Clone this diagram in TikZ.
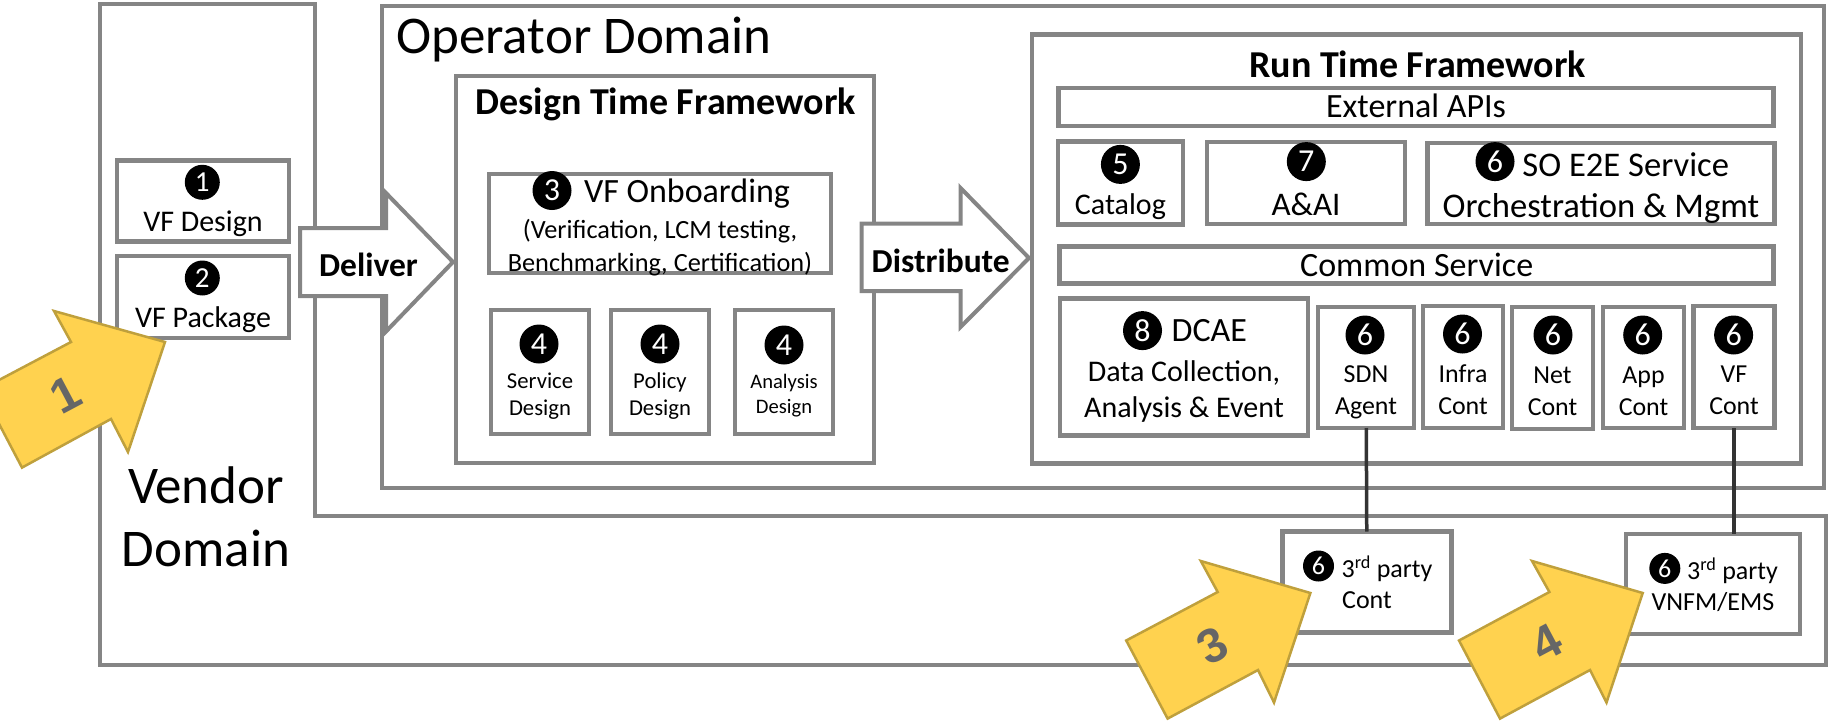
\documentclass[tikz,border=0pt]{standalone}
\usepackage{fontspec}
\setmainfont{Carlito}
\newfontfamily\arrowfont{Liberation Sans}
\newcommand{\fs}[2]{\fontsize{#1}{#2}\selectfont}
\definecolor{linegray}{HTML}{858585}
\definecolor{gold}{HTML}{FFD24F}
\definecolor{golddark}{HTML}{BFA03C}
\definecolor{wire}{HTML}{333333}
\definecolor{digitgray}{HTML}{666666}

\begin{document}
\begin{tikzpicture}[
    x=1pt, y=-1pt,
    frame/.style={rectangle, draw=linegray, line width=4.5pt, inner sep=0pt, outer sep=0pt},
    box/.style={frame, fill=white, align=center, text depth=0pt},
    numdot/.style={circle, fill=black, text=white, inner sep=0pt, minimum size=39pt, font=\fs{32}{32}},
    smalldot/.style={numdot, minimum size=31pt, font=\fs{26}{26}},
    tinydot/.style={numdot, minimum size=35pt, font=\fs{29}{29}},
    title/.style={inner sep=0pt, font=\fs{38}{40}\bfseries},
    bigtext/.style={inner sep=0pt, align=center, font=\fs{53}{63}},
    flow/.style={draw=linegray, line width=4pt, fill=white, line join=miter},
    flowtext/.style={inner sep=0pt, font=\fs{33.5}{36}\bfseries},
    bigarrow/.style={draw=golddark, line width=2.5pt, fill=gold},
    arrowdigit/.style={inner sep=0pt, text=digitgray, rotate=28, font=\arrowfont\fs{48}{48}\bfseries},
    wireline/.style={draw=wire, line width=3.5pt},
]
    \useasboundingbox (0,0) rectangle (1828,720);

    % Vendor Domain
    \draw[draw=linegray, line width=4.5pt] (100,4) -- (315,4) -- (315,516) -- (1826,516) -- (1826,665) -- (100,665) -- cycle;
    \node[bigtext] (vendorlabel) at (206,517) {Vendor\\Domain};

    % Operator Domain
    \node[frame, minimum width=1442pt, minimum height=482pt] (operator) at (1103,247) {};
    \node[bigtext, anchor=base] (operatorlabel) at (584,53) {Operator Domain};

    % Design Time
    \node[frame, minimum width=418pt, minimum height=387pt] (designframe) at (665,269.5) {};
    \node[title] (designtitle) at (665.7,104) {Design Time Framework};
    \node[box, minimum width=342pt, minimum height=99pt, text height=96pt, font=\fs{26.3}{33}] (onboarding) at (660,223.5)
        {\hspace*{54pt}{\fs{34}{33}VF Onboarding}\\[3pt](Verification, LCM testing,\\Benchmarking, Certification)};
    \node[box, minimum width=98pt, minimum height=124pt, text height=87pt, font=\fs{22.7}{27}] (service) at (540,372) {Service\\Design};
    \node[box, minimum width=98pt, minimum height=124pt, text height=87pt, font=\fs{22.7}{27}] (policy) at (660,372) {Policy\\Design};
    \node[box, minimum width=98pt, minimum height=124pt, text height=82pt, font=\fs{20.6}{25}] (analysis) at (784,372) {Analysis\\Design};

    % Run Time
    \node[frame, minimum width=769pt, minimum height=429pt] (runframe) at (1416.5,249) {};
    \node[title] (runtitle) at (1417.6,64) {Run Time Framework};
    \node[box, minimum width=715pt, minimum height=38pt, text height=21.4pt, font=\fs{34}{36}] (external) at (1416,107) {External APIs};
    \node[box, minimum width=125pt, minimum height=83pt, text height=63.6pt, font=\fs{30}{36}] (catalog) at (1120.4,183) {Catalog};
    \node[box, minimum width=198pt, minimum height=82pt, text height=65.6pt, font=\fs{33}{36}] (aai) at (1306,183) {A\&AI};
    \node[box, minimum width=347pt, minimum height=81pt, text height=67pt, font=\fs{34.6}{41}] (soservice) at (1601,183.5)
        {\hspace*{49.5pt}SO E2E Service\\Orchestration \& Mgmt};
    \node[box, minimum width=714pt, minimum height=37pt, text height=23.4pt, font=\fs{34}{36}] (common) at (1416.7,265) {Common Service};
    \node[box, minimum width=248pt, minimum height=137pt, text height=100pt, font=\fs{30}{36}] (dcae) at (1184,367)
        {\hspace*{50.6pt}{\fs{34}{36}DCAE}\\[4pt]Data Collection,\\Analysis \& Event};
    \node[box, minimum width=96pt, minimum height=121pt, text height=94pt, font=\fs{25.9}{32}] (sdn) at (1366,367.5) {SDN\\Agent};
    \node[box, minimum width=80pt, minimum height=122pt, text height=95pt, font=\fs{25.9}{32}] (infra) at (1463,367) {Infra\\Cont};
    \node[box, minimum width=81pt, minimum height=122pt, text height=95pt, font=\fs{25.9}{32}] (net) at (1552.5,368) {Net\\Cont};
    \node[box, minimum width=81pt, minimum height=121pt, text height=95pt, font=\fs{25.9}{32}] (app) at (1643.5,367.5) {App\\Cont};
    \node[box, minimum width=81pt, minimum height=122pt, text height=95pt, font=\fs{25.9}{32}] (vfcont) at (1734,367) {VF\\Cont};

    % Vendor boxes
    \node[box, minimum width=172pt, minimum height=81pt, text height=60pt, font=\fs{30}{38}] (vfdesign) at (203,201) {VF Design};
    \node[box, minimum width=172pt, minimum height=82pt, text height=61pt, font=\fs{30}{38}] (vfpackage) at (203,297) {VF Package};
    \node[box, minimum width=169pt, minimum height=101pt, text height=52.4pt, font=\fs{26}{31}] (thirdcont) at (1367,582)
        {\hspace*{40pt}3\textsuperscript{rd} party\\Cont};
    \node[box, minimum width=174pt, minimum height=100pt, text height=52.4pt, font=\fs{26}{31}] (thirdvnfm) at (1713,584)
        {\hspace*{39pt}3\textsuperscript{rd} party\\VNFM/EMS};

    % Number marks
    \node[tinydot] (mark1) at (202.3,182.3) {1};
    \node[tinydot] (mark2) at (202.3,278) {2};
    \node[numdot] (mark3) at (552,190.5) {3};
    \node[numdot] (mark4a) at (539,344) {4};
    \node[numdot] (mark4b) at (660,344) {4};
    \node[numdot] (mark4c) at (784,345) {4};
    \node[numdot] (mark5) at (1120.4,164.4) {5};
    \node[numdot] (mark7) at (1306.3,161.6) {7};
    \node[numdot] (mark6so) at (1495,161.6) {6};
    \node[numdot] (mark8) at (1142.5,330.6) {8};
    \node[numdot] (mark6sdn) at (1365,335) {6};
    \node[numdot] (mark6infra) at (1462.5,334) {6};
    \node[numdot] (mark6net) at (1553,335) {6};
    \node[numdot] (mark6app) at (1642.7,335) {6};
    \node[numdot] (mark6vf) at (1733.6,335) {6};
    \node[smalldot] (mark6cont) at (1318.5,566) {6};
    \node[smalldot] (mark6vnfm) at (1664.8,568.4) {6};

    % Flow arrows
    \draw[flow] (300,228) -- (386,228) -- (386,193) -- (453,262) -- (386,331.5) -- (386,296) -- (300,296) -- cycle;
    \node[flowtext] (deliver) at (368.5,265) {Deliver};
    \draw[flow] (861.5,223.6) -- (960.6,223.6) -- (960.6,188) -- (1029,258) -- (960.6,327) -- (960.6,291) -- (861.5,291) -- cycle;
    \node[flowtext] (distribute) at (940.7,261) {Distribute};

    % Wires
    \draw[wireline] (sdn) -- (thirdcont);
    \draw[wireline] (vfcont.south) -- (vfcont.south |- thirdvnfm.north);

    % Yellow arrows
    \draw[bigarrow] (165,342) -- (54,311) -- (71,342) -- (-19,389.5) -- (22,467.6) -- (111,419) -- (128,452) -- cycle;
    \node[arrowdigit] (yellow1) at (65.7,395) {1};
    \draw[bigarrow] (1310.4,593) -- (1200.8,561) -- (1217.7,592) -- (1126.2,640.5) -- (1167.6,718.6) -- (1258,670) -- (1274,702.5) -- cycle;
    \node[arrowdigit] (yellow3) at (1213,646) {3};
    \draw[bigarrow] (1642.7,593) -- (1532,561) -- (1549.4,592) -- (1459,640.5) -- (1500,718.6) -- (1590,670) -- (1606.5,702.5) -- cycle;
    \node[arrowdigit] (yellow4) at (1547,643) {4};
\end{tikzpicture}
\end{document}
